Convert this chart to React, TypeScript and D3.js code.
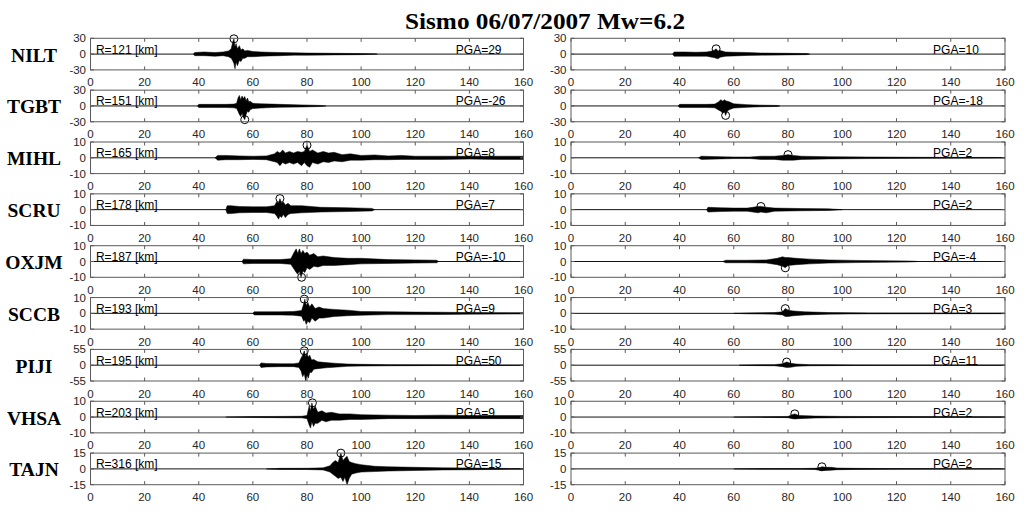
import React from "react";
import * as d3 from "d3";

// ---------- data ----------
const title = "Sismo 06/07/2007 Mw=6.2";
const stations = ["NILT", "TGBT", "MIHL", "SCRU", "OXJM", "SCCB", "PIJI", "VHSA", "TAJN"];
const yLimits = [30, 30, 10, 10, 10, 10, 55, 10, 15];
const distances = [121, 151, 165, 178, 187, 193, 195, 203, 316];
const pgaLeft = [29, -26, 8, 7, -10, 9, 50, 9, 15];
const pgaLeftTime = [53, 57, 80, 70, 78, 79, 79, 82, 92.5];
const pgaRight = [10, -18, 2, 2, -4, 3, 11, 2, 2];
const pgaRightTime = [53.5, 57, 80, 70, 79, 79, 79.5, 82.5, 92.5];
const xTicks = [0, 20, 40, 60, 80, 100, 120, 140, 160];

// envelopes: [time s, upper, lower]
type Env = [number, number, number][];
const nilt_L: Env = [[38, 0, 0], [38.5, 3, -3], [42, 4, -3], [46, 3, -4], [49, 4, -3], [51, 6, -5], [52, 10, -8], [52.5, 22, -12], [53, 29, -18], [53.4, 14, -28], [53.8, 20, -15], [54.3, 10, -22], [55, 16, -12], [55.6, 8, -14], [56.3, 10, -8], [57, 6, -8], [58, 7, -5], [60, 5, -5], [63, 4, -4], [66, 3.5, -3.5], [70, 3, -3], [75, 2.5, -2], [80, 2, -2], [90, 1.5, -1.5], [100, 1, -1], [105, 0.5, -0.5], [106, 0, 0]];
const tgbt_L: Env = [[39.5, 0, 0], [40, 3, -3], [45, 3, -3], [50, 3, -3], [53, 3.5, -3.5], [54, 5, -5], [54.5, 15, -10], [55, 20, -16], [55.5, 12, -20], [56, 19, -14], [56.5, 14, -22], [57, 18, -26], [57.5, 10, -16], [58, 15, -10], [58.5, 8, -12], [59, 9, -7], [60, 5, -5], [63, 4, -4], [67, 3.5, -3], [70, 3, -2.5], [78, 2, -2], [85, 1, -1], [87, 0, 0]];
const mihl_L: Env = [[46, 0, 0], [47, 1.5, -1.5], [50, 1.5, -1.2], [55, 1.2, -1.2], [60, 1, -1], [65, 1.2, -1.2], [68, 2.5, -2.5], [69, 4, -3], [70, 3, -5], [71, 5, -3], [72, 3, -4], [73.5, 4, -3], [75, 3, -4], [76.5, 4, -3], [78, 3.5, -5], [79, 4, -3], [80, 8, -5], [81, 4, -6], [82, 5, -3], [84, 3, -4], [86, 4, -2.5], [88, 3, -3], [90, 3.5, -2], [93, 2, -2.5], [96, 2.5, -1.5], [100, 1.5, -1.5], [105, 1.8, -1.2], [110, 1.2, -1.2], [115, 1.5, -1], [120, 1, -1], [130, 1, -1], [140, 1, -0.8], [150, 1, -1], [160, 1, -1]];
const scru_L: Env = [[50, 0, 0], [50.5, 2.5, -2.5], [52, 2.5, -2.5], [55, 2, -2], [60, 1.8, -1.8], [65, 1.8, -1.8], [68, 2.5, -2.5], [68.8, 5, -4], [69.5, 4, -6], [70, 7, -4], [70.6, 4, -5], [71.2, 5, -3], [72, 3, -5], [73, 4, -3], [74, 2.5, -2.5], [78, 2.5, -2], [85, 1.5, -1.5], [95, 1.2, -1.2], [104, 0.8, -0.8], [105, 0, 0]];
const oxjm_L: Env = [[56, 0, 0], [56.5, 1.5, -1.5], [60, 1.2, -1.2], [65, 1.2, -1.2], [70, 1.2, -1.2], [74, 1.8, -1.8], [75.3, 6, -5], [76, 8, -7], [76.6, 5, -8], [77.2, 8, -6], [77.8, 5, -10], [78.5, 7, -6], [79.2, 5, -7], [80, 6, -4], [81, 4, -5], [82.5, 5, -3], [84, 3, -3.5], [86, 3.5, -2.5], [90, 2.5, -2.5], [95, 2, -2], [100, 2, -1.5], [110, 1.2, -1.2], [120, 1, -1], [128, 0.8, -0.8], [128.5, 0, 0]];
const sccb_L: Env = [[60, 0, 0], [60.5, 1, -1], [70, 1, -1], [75, 1.2, -1.2], [78, 1.8, -1.8], [78.8, 6, -5], [79.2, 9, -4], [79.7, 5, -7], [80.3, 7, -5], [81, 4, -6], [81.8, 6, -3], [83, 3, -5], [84.5, 4, -3], [86, 3, -3], [90, 2.5, -2], [95, 2, -1.5], [100, 1.2, -1.2], [110, 1, -0.8], [120, 0.8, -0.8], [130, 0.7, -0.7], [140, 0.5, -0.5], [160, 0.4, -0.4]];
const piji_L: Env = [[62.5, 0, 0], [63, 8, -8], [65, 6, -6], [70, 5, -5], [75, 5, -5], [77, 8, -8], [77.8, 25, -20], [78.4, 35, -40], [79, 50, -30], [79.5, 30, -55], [80, 42, -35], [80.5, 28, -45], [81, 35, -25], [81.7, 18, -25], [82.5, 20, -14], [84, 12, -12], [87, 9, -9], [90, 7, -7], [95, 4, -4], [100, 3, -3], [110, 2, -2], [120, 1.5, -1.5], [130, 1.2, -1.2], [140, 1, -1], [160, 0.5, -0.5]];
const vhsa_L: Env = [[50, 0, 0], [60, 0.3, -0.3], [70, 0.4, -0.4], [78, 0.5, -0.5], [80, 1, -1], [80.8, 7, -5], [81.3, 4, -7], [81.8, 9, -3], [82.4, 5, -6], [83, 7, -4], [84, 3, -4], [85.5, 4, -2], [87, 2.5, -3], [89, 3, -2], [92, 2, -2], [96, 2, -1.5], [100, 1.5, -1.5], [110, 1.2, -1], [120, 1, -1], [130, 1.2, -1], [140, 1, -1], [150, 1, -1], [160, 1, -1]];
const tajn_L: Env = [[65, 0, 0], [70, 0.5, -0.5], [80, 0.6, -0.6], [86, 1, -1], [88.5, 3, -3], [89.5, 6, -5], [90.5, 8, -7], [91.5, 6, -9], [92.5, 15, -8], [93.3, 8, -12], [94, 10, -8], [94.8, 12, -15], [95.6, 7, -9], [96.5, 6, -5], [98, 5, -4], [100, 4, -3], [105, 2.5, -2.5], [110, 2, -2], [120, 1.5, -1.5], [130, 1, -1], [140, 0.8, -0.8], [150, 0.5, -0.5], [160, 0.3, -0.3]];

const nilt_R: Env = [[37.5, 0, 0], [38, 4, -4], [42, 4, -4], [46, 3.5, -4], [50, 4, -4], [52, 6, -6], [53, 8, -7], [53.5, 10, -8], [54.2, 6, -9], [55, 7, -6], [57, 4, -4], [60, 3.5, -3.5], [65, 3, -2.5], [70, 2, -2], [80, 1.5, -1.5], [87, 1, -1], [88, 0, 0]];
const tgbt_R: Env = [[39.5, 0, 0], [40, 3, -3], [45, 3, -3], [50, 3, -3], [53, 3.5, -3.5], [54.5, 8, -8], [55.2, 12, -10], [56, 9, -14], [56.5, 12, -10], [57, 10, -18], [57.6, 9, -10], [58.3, 8, -7], [60, 4, -4], [65, 2.5, -2.5], [70, 1.5, -1.5], [76, 1, -1], [77, 0, 0]];
const mihl_R: Env = [[47, 0, 0], [48, 1, -1], [55, 0.7, -0.7], [60, 0.5, -0.5], [66, 0.5, -0.5], [70, 1, -1], [75, 1, -1], [78, 1.5, -1.5], [80, 2, -1.5], [82, 1.5, -1.5], [85, 1, -1], [95, 0.7, -0.7], [110, 0.5, -0.5], [130, 0.3, -0.3], [160, 0.2, -0.2]];
const scru_R: Env = [[50, 0, 0], [50.5, 1.5, -1.5], [55, 1.2, -1.2], [60, 1, -1], [65, 1, -1], [69, 2, -2], [70, 2, -1.5], [72, 1.5, -2], [75, 1, -1], [85, 0.7, -0.7], [95, 0.5, -0.5], [100, 0, 0]];
const oxjm_R: Env = [[56, 0, 0], [57, 0.8, -0.8], [65, 0.8, -0.8], [72, 1, -1], [76, 2, -2], [78, 3, -3], [79, 2.5, -4], [80, 2.5, -2.5], [83, 2, -2], [88, 1.5, -1.5], [95, 1, -1], [105, 0.7, -0.7], [115, 0.5, -0.5], [125, 0.3, -0.3], [128, 0, 0]];
const sccb_R: Env = [[60, 0, 0], [65, 0.3, -0.3], [75, 0.5, -0.5], [78, 1, -1], [79, 3, -2], [80, 2, -2], [82, 1.5, -1.5], [86, 1, -1], [95, 0.5, -0.5], [110, 0.3, -0.3], [160, 0.2, -0.2]];
const piji_R: Env = [[62, 0, 0], [63, 1, -1], [70, 1.5, -1.5], [75, 2, -2], [78, 5, -5], [79.5, 11, -8], [81, 7, -7], [83, 4, -4], [88, 2, -2], [95, 1.5, -1.5], [105, 1, -1], [120, 0.5, -0.5], [160, 0.3, -0.3]];
const vhsa_R: Env = [[60, 0, 0], [70, 0.2, -0.2], [80, 0.4, -0.4], [81.5, 1.5, -1], [82.5, 2, -1.2], [84, 1, -1], [90, 0.6, -0.6], [100, 0.4, -0.4], [120, 0.3, -0.3], [160, 0.2, -0.2]];
const tajn_R: Env = [[60, 0, 0], [70, 0.3, -0.3], [85, 0.4, -0.4], [90, 0.6, -0.6], [92, 1.5, -1.5], [92.5, 2, -1.5], [94, 1.5, -1.5], [96, 1.5, -1.2], [98, 0.8, -0.8], [105, 0.5, -0.5], [120, 0.3, -0.3], [160, 0.2, -0.2]];

const tracesLeft = [nilt_L, tgbt_L, mihl_L, scru_L, oxjm_L, sccb_L, piji_L, vhsa_L, tajn_L];
const tracesRight = [nilt_R, tgbt_R, mihl_R, scru_R, oxjm_R, sccb_R, piji_R, vhsa_R, tajn_R];

// ---------- layout ----------
const W = 1026, H = 512;
const TOP0 = 38.3, STEP = 51.85, PH = 31.6;
const cols = [
  { x0: 90.5, x1: 523.5, pga: pgaLeft, pgaT: pgaLeftTime, traces: tracesLeft, showR: true, pgaTextT: 135 },
  { x0: 571, x1: 1005, pga: pgaRight, pgaT: pgaRightTime, traces: tracesRight, showR: false, pgaTextT: 133.5 },
];
const AXC = "#262626";
const BOXC = "#5a5a5a";
const SANS = "'Liberation Sans', Arial, sans-serif";
const SERIF = "'Liberation Serif', 'Times New Roman', serif";

function Panel({ col, i }: { col: typeof cols[0]; i: number }) {
  const top = TOP0 + STEP * i;
  const bottom = top + PH;
  const x = d3.scaleLinear().domain([0, 160]).range([col.x0, col.x1]);
  const lim = yLimits[i];
  const y = d3.scaleLinear().domain([-lim, lim]).range([bottom, top]);
  const env = col.traces[i];
  const area = d3
    .area<[number, number, number]>()
    .x((d) => x(d[0]))
    .y0((d) => y(d[2]))
    .y1((d) => y(d[1]));
  const yt = [lim, 0, -lim];
  return (
    <g>
      <line x1={x(0)} x2={x(160)} y1={y(0)} y2={y(0)} stroke="#111" strokeWidth={1} />
      <path d={area(env) || ""} fill="#000" stroke="#000" strokeWidth={0.5} strokeLinejoin="round" />
      <circle cx={x(col.pgaT[i])} cy={y(col.pga[i])} r={4} fill="none" stroke="#000" strokeWidth={1} />
      <rect x={col.x0} y={top} width={col.x1 - col.x0} height={PH} fill="none" stroke={BOXC} strokeWidth={1} />
      {xTicks.map((t) => (
        <g key={t}>
          <line x1={x(t)} x2={x(t)} y1={bottom} y2={bottom - 3.5} stroke={BOXC} strokeWidth={1} />
          <line x1={x(t)} x2={x(t)} y1={top} y2={top + 3.5} stroke={BOXC} strokeWidth={1} />
          <text x={x(t)} y={bottom + 16.5} textAnchor="middle" fontFamily={SANS} fontSize={11.5} fill={AXC}>
            {t}
          </text>
        </g>
      ))}
      {yt.map((v) => (
        <g key={v}>
          <line x1={col.x0} x2={col.x0 + 3.5} y1={y(v)} y2={y(v)} stroke={BOXC} strokeWidth={1} />
          <line x1={col.x1} x2={col.x1 - 3.5} y1={y(v)} y2={y(v)} stroke={BOXC} strokeWidth={1} />
          <text x={col.x0 - 4.5} y={y(v) + 4} textAnchor="end" fontFamily={SANS} fontSize={11.5} fill={AXC}>
            {v}
          </text>
        </g>
      ))}
      {col.showR && (
        <text x={x(2)} y={y(0) - 0.5} fontFamily={SANS} fontSize={12} fill="#000">
          {`R=${distances[i]} [km]`}
        </text>
      )}
      <text x={x(col.pgaTextT)} y={y(0) - 0.5} fontFamily={SANS} fontSize={12} fill="#000">
        {`PGA=${col.pga[i]}`}
      </text>
    </g>
  );
}

export default function App() {
  return (
    <svg width={W} height={H} style={{ position: "absolute", left: 0, top: 0, background: "#fff" }}>
      <rect x={0} y={0} width={W} height={H} fill="#fff" />
      <text x={545} y={28.5} textAnchor="middle" fontFamily={SERIF} fontWeight="bold" fontSize={23} textLength={280} lengthAdjust="spacingAndGlyphs" fill="#000">
        {title}
      </text>
      {stations.map((s, i) => (
        <text key={s} x={34} y={TOP0 + STEP * i + PH / 2 + 7.5} textAnchor="middle" fontFamily={SERIF} fontWeight="bold" fontSize={19.5} fill="#000">
          {s}
        </text>
      ))}
      {stations.map((s, i) => (
        <g key={s}>
          {cols.map((c, k) => (
            <Panel key={k} col={c} i={i} />
          ))}
        </g>
      ))}
    </svg>
  );
}
